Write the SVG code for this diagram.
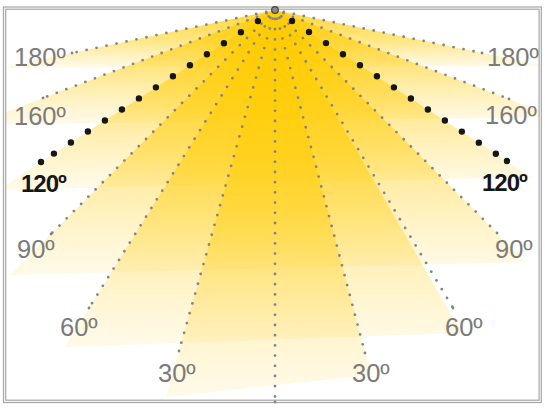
<svg xmlns="http://www.w3.org/2000/svg" width="545" height="412" viewBox="0 0 545 412">
<defs>
<style>
.lbl{font-family:"Liberation Sans",Arial,sans-serif;font-size:25.5px;fill:#7b7b7b}
.bold{font-family:"Liberation Sans",Arial,sans-serif;font-size:24px;font-weight:bold;fill:#161616;letter-spacing:-1px}
.dot{fill:none;stroke:#80848c;stroke-width:2.8;stroke-linecap:round;stroke-dasharray:0 10.2;stroke-dashoffset:1.2;marker-end:url(#gd)}
.bdot{fill:none;stroke:#161616;stroke-width:6.4;stroke-linecap:round;stroke-dasharray:0 20.27;marker-end:url(#bd)}
.frame{fill:none;stroke:#a6a6a6;stroke-width:1.2}
.s0{stop-color:#ffcb00;stop-opacity:0.8}
.s1{stop-color:#ffcf10;stop-opacity:0.5}
.s2{stop-color:#ffd84d;stop-opacity:0.14}
</style>
<marker id="gd" viewBox="0 0 4 4" refX="2" refY="2" markerWidth="4" markerHeight="4" markerUnits="userSpaceOnUse"><circle cx="2" cy="2" r="1.4" fill="#80848c"/></marker>
<marker id="bd" viewBox="0 0 8 8" refX="4" refY="4" markerWidth="8" markerHeight="8" markerUnits="userSpaceOnUse"><circle cx="4" cy="4" r="3.2" fill="#161616"/></marker>
<clipPath id="clip"><rect x="5.5" y="8.5" width="534" height="392"/></clipPath>
<linearGradient id="g180" gradientUnits="userSpaceOnUse" x1="0" y1="10" x2="0" y2="67"><stop offset="0" class="s0"/><stop offset="0.55" class="s1"/><stop offset="1" class="s2"/></linearGradient>
<linearGradient id="g160" gradientUnits="userSpaceOnUse" x1="0" y1="10" x2="0" y2="121"><stop offset="0" class="s0"/><stop offset="0.55" class="s1"/><stop offset="1" class="s2"/></linearGradient>
<linearGradient id="g120" gradientUnits="userSpaceOnUse" x1="0" y1="10" x2="0" y2="184"><stop offset="0" class="s0"/><stop offset="0.55" class="s1"/><stop offset="1" class="s2"/></linearGradient>
<linearGradient id="g90" gradientUnits="userSpaceOnUse" x1="0" y1="10" x2="0" y2="268"><stop offset="0" class="s0"/><stop offset="0.55" class="s1"/><stop offset="1" class="s2"/></linearGradient>
<linearGradient id="g60" gradientUnits="userSpaceOnUse" x1="0" y1="10" x2="0" y2="340"><stop offset="0" class="s0"/><stop offset="0.55" class="s1"/><stop offset="1" class="s2"/></linearGradient>
<linearGradient id="g30" gradientUnits="userSpaceOnUse" x1="0" y1="10" x2="0" y2="386"><stop offset="0" class="s0"/><stop offset="0.55" class="s1"/><stop offset="1" class="s2"/></linearGradient>
</defs>
<rect width="545" height="412" fill="#ffffff"/>
<g id="beams" clip-path="url(#clip)">
<path d="M275 10 L1 68 L545 66 Z" fill="url(#g180)"/>
<path d="M275 10 L-28 125 L556 117 Z" fill="url(#g160)"/>
<path d="M275 10 L-2 190 L531 177 Z" fill="url(#g120)"/>
<path d="M275 10 L10 275 L526 262 Z" fill="url(#g90)"/>
<path d="M275 10 L65 347 L462 333 Z" fill="url(#g60)"/>
<path d="M275 10 L166 397 L371 375 Z" fill="url(#g30)"/>
</g>
<g id="frame">
<rect class="frame" x="3.5" y="7" width="537.8" height="395.5"/>
<rect class="frame" x="5.7" y="9.2" width="533.4" height="391"/>
</g>
<g id="connectors">
<path class="dot" d="M275 10 L72 53"/>
<path class="dot" d="M275 10 L482 53"/>
<path class="dot" d="M275 10 L43 98"/>
<path class="dot" d="M275 10 L509 99"/>
<path class="dot" d="M275 10 L51 234"/>
<path class="dot" d="M275 10 L497 233"/>
<path class="dot" d="M275 10 L89 308"/>
<path class="dot" d="M275 10 L453 308"/>
<path class="dot" d="M275 10 L179 351"/>
<path class="dot" d="M275 10 L365 353"/>
<path class="dot" d="M275 10 L275 402"/>
<path class="bdot" d="M257.9 21.1 L41 162"/>
<path class="bdot" d="M292 21 L507 161"/>
</g>
<g id="source"><circle cx="275" cy="10" r="3.3" fill="#8a8a8a" stroke="#444" stroke-width="1.2"/></g>
<g id="labels">
<text class="lbl" x="14" y="66">180º</text>
<text class="lbl" x="487" y="66">180º</text>
<text class="lbl" x="14" y="125">160º</text>
<text class="lbl" x="485" y="124">160º</text>
<text class="bold" x="21" y="192">120º</text>
<text class="bold" x="482" y="191">120º</text>
<text class="lbl" x="17" y="258">90º</text>
<text class="lbl" x="495" y="258">90º</text>
<text class="lbl" x="60" y="336">60º</text>
<text class="lbl" x="445" y="336">60º</text>
<text class="lbl" x="158" y="382">30º</text>
<text class="lbl" x="352" y="382">30º</text>
</g>
</svg>
